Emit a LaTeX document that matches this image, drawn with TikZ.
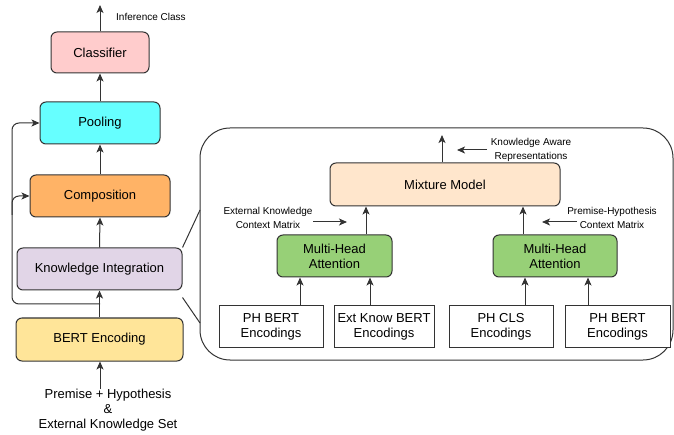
\documentclass[tikz,border=0pt]{standalone}
\usepackage{fontspec}
\setmainfont{Liberation Sans}
\usepackage{tikz}
\usetikzlibrary{arrows.meta,calc}
\definecolor{clsfill}{HTML}{FFCCCC}
\definecolor{poolfill}{HTML}{66FFFF}
\definecolor{compfill}{HTML}{FFB366}
\definecolor{kifill}{HTML}{E1D5E7}
\definecolor{bertfill}{HTML}{FFE599}
\definecolor{mixfill}{HTML}{FFE6CC}
\definecolor{mhafill}{HTML}{97D077}
\definecolor{edge}{HTML}{333333}
\tikzset{
  blockbox/.style={draw=edge,line width=1pt,rounded corners=6,align=center,
    font=\fontsize{13}{15}\selectfont,inner sep=0pt},
  encbox/.style={draw=edge,line width=1pt,fill=white,align=center,
    font=\fontsize{13}{15}\selectfont,inner sep=0pt,minimum height=41},
  smalltext/.style={align=center,font=\fontsize{10}{14}\selectfont,inner sep=0pt},
  arr/.style={draw=edge,line width=1pt,-{Stealth[length=8,width=7,inset=2]}},
  plainline/.style={draw=edge,line width=1pt}
}
\begin{document}
\begin{tikzpicture}[x=1pt,y=-1pt]
\useasboundingbox (0,0) rectangle (674,435);
% left column
\node[blockbox,fill=clsfill,minimum width=98,minimum height=41] (classifier) at (100,52.5) {Classifier};
\node[blockbox,fill=poolfill,minimum width=120,minimum height=42] (pooling) at (100,123) {Pooling};
\node[blockbox,fill=compfill,minimum width=140,minimum height=42] (composition) at (100,196) {Composition};
\node[blockbox,fill=kifill,minimum width=165,minimum height=42] (knowint) at (99.5,269) {Knowledge Integration};
\node[blockbox,fill=bertfill,minimum width=167,minimum height=43] (bertenc) at (99.5,339.5) {BERT Encoding};
\node[align=center,font=\fontsize{13}{15}\selectfont,inner sep=0pt] (input) at (108,410)
  {Premise + Hypothesis\\\&\\External Knowledge Set};
\coordinate (infer) at (100,5);
\node[smalltext,anchor=west] (inferlabel) at (116,17) {Inference Class};
\draw[arr] (input.north -| 100,0) -- (bertenc.south -| 100,0);
\draw[arr] (bertenc.north) -- (knowint.south);
\draw[arr] (knowint.north) -- (composition.south);
\draw[arr] (composition.north) -- (pooling.south);
\draw[arr] (pooling.north) -- (classifier.south);
\draw[arr] (classifier.north) -- (infer);
% skip connections
\coordinate (skip) at (100,304);
\draw[arr,rounded corners=7] (skip) -- (12,304) -- (12,123) -- (pooling.west);
\draw[arr,rounded corners=7] (12,215) -- (12,196) -- (composition.west);
% detail of knowledge integration
\node[draw=edge,line width=1pt,rounded corners=30,minimum width=473,minimum height=232,inner sep=0pt] (detail) at (436.5,244) {};
\coordinate (zoomtop) at (200,210);
\coordinate (zoombot) at (200,323);
\draw[plainline] (knowint.north east) -- (zoomtop);
\draw[plainline] ([yshift=-7]knowint.south east) -- (zoombot);
\node[blockbox,fill=mixfill,minimum width=230,minimum height=43] (mixture) at (445,184.5) {Mixture Model};
\node[blockbox,fill=mhafill,minimum width=115,minimum height=42] (mha1) at (334.5,256) {Multi-Head\\Attention};
\node[blockbox,fill=mhafill,minimum width=124,minimum height=42] (mha2) at (555,256) {Multi-Head\\Attention};
\node[encbox,minimum width=104] (phbert1) at (271,326.5) {PH BERT\\Encodings};
\node[encbox,minimum width=100] (extbert) at (384,326.5) {Ext Know BERT\\Encodings};
\node[encbox,minimum width=104] (phcls) at (501,326.5) {PH CLS\\Encodings};
\node[encbox,minimum width=105] (phbert2) at (617.5,326.5) {PH BERT\\Encodings};
\draw[arr] ([xshift=29]phbert1.north) -- ([xshift=29]phbert1.north |- mha1.south);
\draw[arr] ([xshift=-14]extbert.north) -- ([xshift=-14]extbert.north |- mha1.south);
\draw[arr] ([xshift=24]phcls.north) -- ([xshift=24]phcls.north |- mha2.south);
\draw[arr] ([xshift=-29.5]phbert2.north) -- ([xshift=-29.5]phbert2.north |- mha2.south);
\draw[arr] ([xshift=31.5]mha1.north) -- ([xshift=31.5]mha1.north |- mixture.south);
\draw[arr] ([xshift=-32]mha2.north) -- ([xshift=-32]mha2.north |- mixture.south);
\coordinate (kaout) at (442,135);
\draw[arr] (mixture.north -| kaout) -- (kaout);
% side labels
\node[smalltext] (kalabel) at (531,150) {Knowledge Aware\\Representations};
\node[smalltext] (extlabel) at (268,218) {External Knowledge\\Context Matrix};
\node[smalltext] (phlabel) at (612,218) {Premise-Hypothesis\\Context Matrix};
\draw[arr] (487,150) -- (457,150);
\draw[arr] (313,222) -- (347,222);
\draw[arr] (577,222) -- (542,222);
\end{tikzpicture}
\end{document}
